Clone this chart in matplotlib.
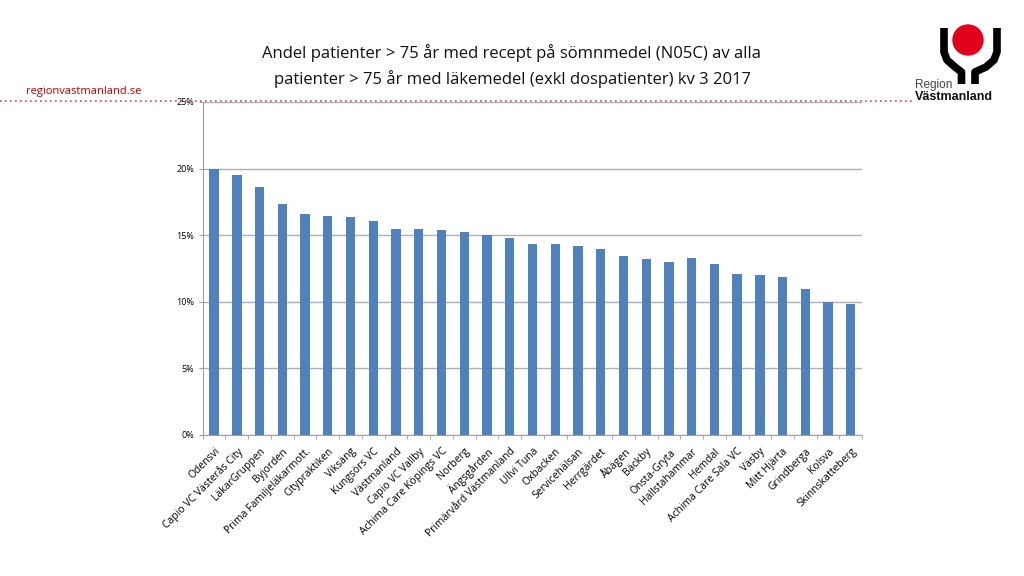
import matplotlib
matplotlib.use("Agg")
import matplotlib.pyplot as plt
from matplotlib.ticker import PercentFormatter
from matplotlib.patches import Circle
import numpy as np

plt.rcParams['font.family'] = ['Open Sans', 'DejaVu Sans']

units = ["Odensvi", "Capio VC Västerås City", "LäkarGruppen", "Byjorden",
         "Prima Familjeläkarmott.", "Citypraktiken", "Viksäng", "Kungsörs VC",
         "Västmanland", "Capio VC Vallby", "Achima Care Köpings VC", "Norberg",
         "Ängsgården", "Primärvård Västmanland", "Ullvi Tuna", "Oxbacken",
         "Servicehälsan", "Herrgärdet", "Åbägen", "Bäckby", "Önsta-Gryta",
         "Hallstahammar", "Hemdal", "Achima Care Sala VC", "Väsby", "Mitt Hjärta",
         "Grindberga", "Kolsva", "Skinnskatteberg"]
andel = [20.0, 19.5, 18.6, 17.35, 16.6, 16.4, 16.35, 16.05, 15.45, 15.43, 15.38,
         15.23, 15.0, 14.8, 14.35, 14.3, 14.15, 13.95, 13.4, 13.2, 13.0, 13.27,
         12.86, 12.06, 11.98, 11.83, 10.93, 9.95, 9.85]
yticks = [0, 5, 10, 15, 20, 25]

title = ("Andel patienter > 75 år med recept på sömnmedel (N05C) av alla\n"
         "patienter > 75 år med läkemedel (exkl dospatienter) kv 3 2017")

fig = plt.figure(figsize=(10.24, 5.76), dpi=100)
ax = fig.add_axes([0.198, 0.245, 0.644, 0.578])

x = np.arange(len(units))
ax.bar(x, andel, width=0.41, color="#4F81BD", zorder=3)
ax.set_xlim(-0.5, len(units) - 0.5)
ax.set_ylim(0, 25)
ax.set_yticks(yticks)
ax.yaxis.set_major_formatter(PercentFormatter(decimals=0))
ax.grid(axis="y", color="#B0B0B0", linewidth=1, zorder=0)
ax.set_xticks(x)
ax.set_xticklabels(units, rotation=45, ha="right", rotation_mode="anchor",
                   fontsize=7.5)
# tick marks between the categories, like excel
ax.set_xticks(np.arange(len(units) + 1) - 0.5, minor=True)
ax.tick_params(axis="x", which="major", length=0, pad=8)
ax.tick_params(axis="x", which="minor", length=3, color="#A0A0A0")
ax.tick_params(axis="y", labelsize=6.5, length=3, color="#A0A0A0", pad=3)
for s in ["top", "right"]:
    ax.spines[s].set_visible(False)
for s in ["left", "bottom"]:
    ax.spines[s].set_color("#A0A0A0")

fig.text(0.5, 0.885, title, ha="center", va="center", fontsize=12,
         linespacing=1.6, color="#111111")
fig.text(0.025, 0.842, "regionvastmanland.se", color="#C00000", fontsize=8,
         va="center")

# red dotted rule along the top
fig.add_artist(plt.Line2D([0.0, 0.894], [0.825, 0.825], color="#C0504D",
                          linestyle=(0, (1, 2)), linewidth=1.2))

# logo, drawn in figure pixels (y downwards)
lg = fig.add_axes([900 / 1024, 1 - 110 / 576, 124 / 1024, 110 / 576])
lg.set_xlim(900, 1024)
lg.set_ylim(110, 0)
lg.axis("off")
lg.add_patch(Circle((968, 40), 15, color="#E2001A", zorder=1))
lg.plot([944, 944, 947, 955, 961.5, 961.5], [28, 52, 60, 67, 72, 84],
        color="black", lw=5.5, solid_capstyle="butt", solid_joinstyle="round",
        zorder=2)
lg.plot([997, 997, 994, 986, 975, 975], [28, 52, 60, 67, 72, 84],
        color="black", lw=5.5, solid_capstyle="butt", solid_joinstyle="round",
        zorder=2)
lg.text(915, 85, "Region", fontsize=8.5, color="#444444",
        family="Liberation Sans", va="center")
lg.text(915, 96.5, "Västmanland", fontsize=9, fontweight="bold",
        color="#111111", family="Liberation Sans", va="center")

fig.savefig("out.png", dpi=100)
